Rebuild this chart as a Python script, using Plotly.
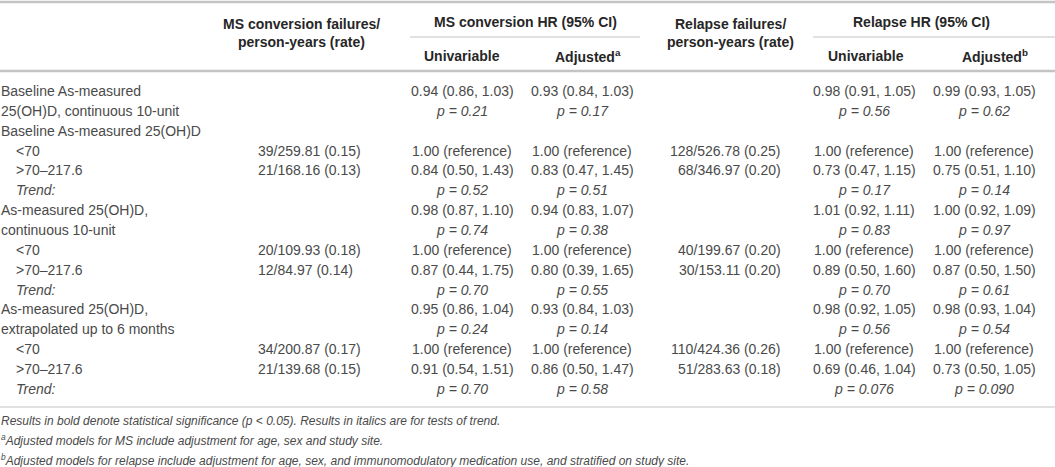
import plotly.graph_objects as go

# table content, row by row
row_labels = ["Baseline As-measured", "25(OH)D, continuous 10-unit", "Baseline As-measured 25(OH)D",
              "<70", ">70–217.6", "Trend:",
              "As-measured 25(OH)D,", "continuous 10-unit",
              "<70", ">70–217.6", "Trend:",
              "As-measured 25(OH)D,", "extrapolated up to 6 months",
              "<70", ">70–217.6", "Trend:"]
indented = [0, 0, 0, 1, 1, 1, 0, 0, 1, 1, 1, 0, 0, 1, 1, 1]

ms_failures = ["", "", "", "39/259.81 (0.15)", "21/168.16 (0.13)", "", "", "",
               "20/109.93 (0.18)", "12/84.97 (0.14)", "", "", "",
               "34/200.87 (0.17)", "21/139.68 (0.15)", ""]
ms_univ = ["0.94 (0.86, 1.03)", "p = 0.21", "", "1.00 (reference)", "0.84 (0.50, 1.43)", "p = 0.52",
           "0.98 (0.87, 1.10)", "p = 0.74", "1.00 (reference)", "0.87 (0.44, 1.75)", "p = 0.70",
           "0.95 (0.86, 1.04)", "p = 0.24", "1.00 (reference)", "0.91 (0.54, 1.51)", "p = 0.70"]
ms_adj = ["0.93 (0.84, 1.03)", "p = 0.17", "", "1.00 (reference)", "0.83 (0.47, 1.45)", "p = 0.51",
          "0.94 (0.83, 1.07)", "p = 0.38", "1.00 (reference)", "0.80 (0.39, 1.65)", "p = 0.55",
          "0.93 (0.84, 1.03)", "p = 0.14", "1.00 (reference)", "0.86 (0.50, 1.47)", "p = 0.58"]
rel_failures = ["", "", "", "128/526.78 (0.25)", "68/346.97 (0.20)", "", "", "",
                "40/199.67 (0.20)", "30/153.11 (0.20)", "", "", "",
                "110/424.36 (0.26)", "51/283.63 (0.18)", ""]
rel_univ = ["0.98 (0.91, 1.05)", "p = 0.56", "", "1.00 (reference)", "0.73 (0.47, 1.15)", "p = 0.17",
            "1.01 (0.92, 1.11)", "p = 0.83", "1.00 (reference)", "0.89 (0.50, 1.60)", "p = 0.70",
            "0.98 (0.92, 1.05)", "p = 0.56", "1.00 (reference)", "0.69 (0.46, 1.04)", "p = 0.076"]
rel_adj = ["0.99 (0.93, 1.05)", "p = 0.62", "", "1.00 (reference)", "0.75 (0.51, 1.10)", "p = 0.14",
           "1.00 (0.92, 1.09)", "p = 0.97", "1.00 (reference)", "0.87 (0.50, 1.50)", "p = 0.61",
           "0.98 (0.93, 1.04)", "p = 0.54", "1.00 (reference)", "0.73 (0.50, 1.05)", "p = 0.090"]

footnotes = ["Results in bold denote statistical significance (p < 0.05). Results in italics are for tests of trend.",
             "<sup>a</sup>Adjusted models for MS include adjustment for age, sex and study site.",
             "<sup>b</sup>Adjusted models for relapse include adjustment for age, sex, and immunomodulatory "
             "medication use, and stratified on study site."]

W, H = 1055, 467
FONT = "Liberation Sans"
TXT = "#4a4a4a"
RULE = "#c4c4c4"

fig = go.Figure()
ann = []


def cell(x, y, text, anchor="center", size=14, bold=False, color=TXT):
    if text == "":
        return
    if text.startswith("p = ") or text == "Trend:":
        text = "<i>" + text + "</i>"
    if bold:
        text = "<b>" + text + "</b>"
    ann.append(dict(x=x, y=y, xref="x", yref="y", text=text, showarrow=False,
                    xanchor=anchor, yanchor="middle", borderpad=0,
                    font=dict(family=FONT, size=size, color=color)))


# header
hdr = "#262626"
cell(301, 24, "MS conversion failures/", bold=True, color=hdr)
cell(301, 42, "person-years (rate)", bold=True, color=hdr)
cell(525, 22, "MS conversion HR (95% CI)", bold=True, color=hdr)
cell(462, 56, "Univariable", bold=True, color=hdr)
cell(588, 56, "Adjusted<sup>a</sup>", bold=True, color=hdr)
cell(730, 24, "Relapse failures/", bold=True, color=hdr)
cell(730, 42, "person-years (rate)", bold=True, color=hdr)
cell(921, 22, "Relapse HR (95% CI)", bold=True, color=hdr)
cell(866, 56, "Univariable", bold=True, color=hdr)
cell(995, 56, "Adjusted<sup>b</sup>", bold=True, color=hdr)

# body rows
y0, dy = 91, 19.85
for i in range(len(row_labels)):
    y = y0 + i * dy
    cell(15 if indented[i] else 0, y, row_labels[i], anchor="left")
    cell(257, y, ms_failures[i], anchor="left")
    cell(462, y, ms_univ[i])
    cell(582, y, ms_adj[i])
    cell(782, y, rel_failures[i], anchor="right")
    cell(864, y, rel_univ[i])
    cell(984, y, rel_adj[i])

for k, t in enumerate(footnotes):
    cell(0, 421 + k * 19.3, "<i>" + t + "</i>", anchor="left", size=12)

shapes = [
    dict(type="line", x0=0, x1=W, y0=2, y1=2, line=dict(color=RULE, width=2.5)),
    dict(type="line", x0=410, x1=640, y0=37, y1=37, line=dict(color=RULE, width=1.2)),
    dict(type="line", x0=813, x1=W, y0=37, y1=37, line=dict(color=RULE, width=1.2)),
    dict(type="line", x0=0, x1=W, y0=71, y1=71, line=dict(color=RULE, width=2.5)),
    dict(type="line", x0=0, x1=W, y0=407, y1=407, line=dict(color=RULE, width=1.2)),
]
for s in shapes:
    s.update(xref="x", yref="y", layer="below")

fig.update_layout(
    width=W, height=H,
    margin=dict(l=0, r=0, t=0, b=0),
    paper_bgcolor="white", plot_bgcolor="white",
    xaxis=dict(range=[0, W], visible=False, fixedrange=True),
    yaxis=dict(range=[H, 0], visible=False, fixedrange=True),
    annotations=ann, shapes=shapes, showlegend=False,
)
# the page body has a default 8px margin; drop it so the figure fills the window
fig.write_html("out.html", config={"displayModeBar": False},
               post_script="document.body.style.margin='0px';document.body.style.overflow='hidden';")
